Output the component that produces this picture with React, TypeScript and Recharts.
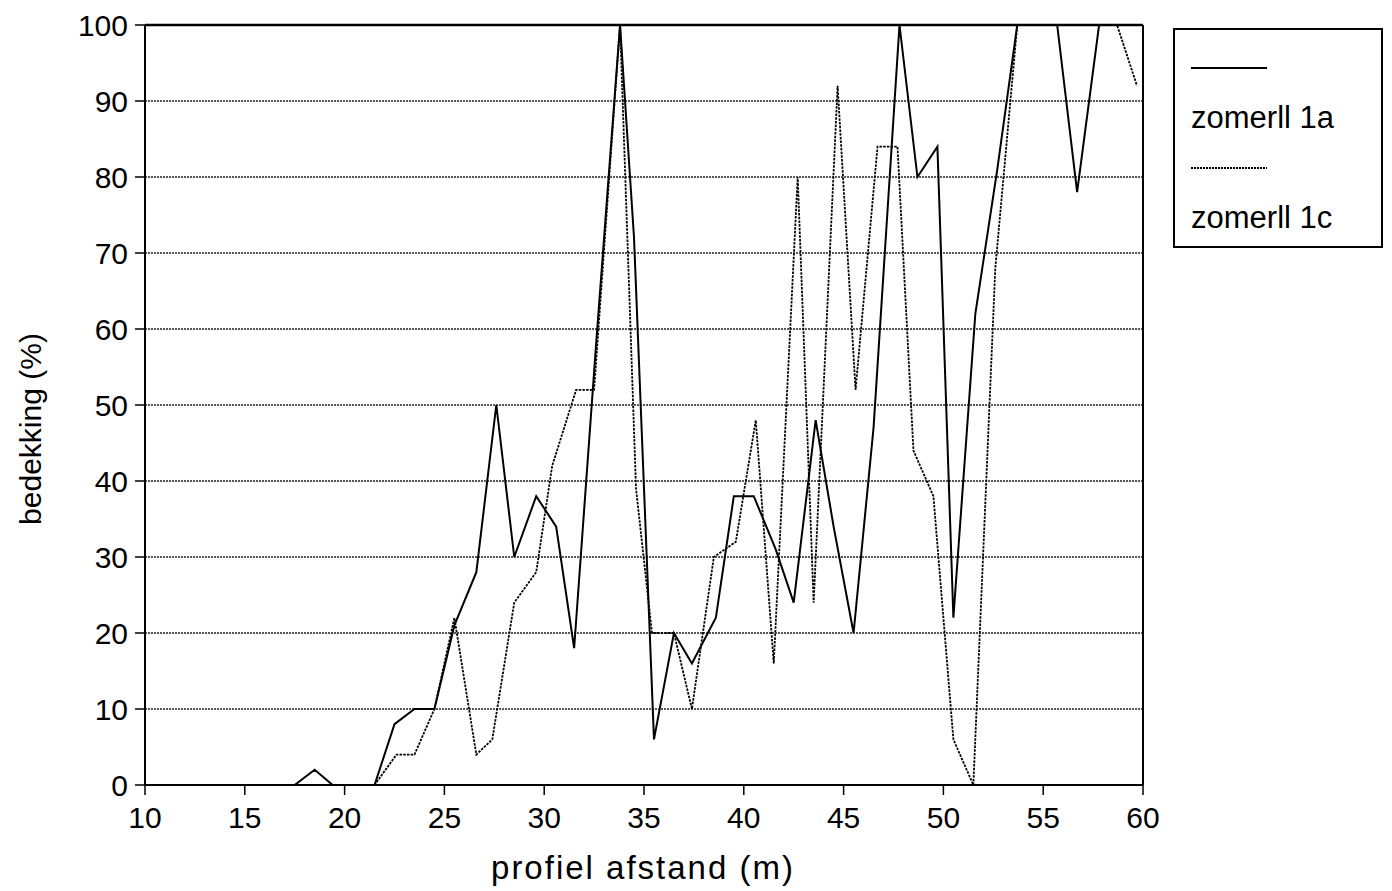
import React from 'react';
import { LineChart, Line, XAxis, YAxis, CartesianGrid, ReferenceLine, Legend } from 'recharts';

const FONT = '"Liberation Sans", Arial, Helvetica, sans-serif';

const xTicks = [10, 15, 20, 25, 30, 35, 40, 45, 50, 55, 60];
const yTicks = [0, 10, 20, 30, 40, 50, 60, 70, 80, 90, 100];

const seriesNames = ['zomerll 1a', 'zomerll 1c'];

const x1a = [10, 17.5, 18.5, 19.4, 21.5, 22.5, 23.5, 24.5, 25.5, 26.6, 27.6, 28.5, 29.6, 30.6, 31.5, 32.6, 33.8, 34.5, 35.5, 36.5, 37.4, 38.6, 39.5, 40.5, 41.6, 42.5, 43.6, 44.5, 45.5, 46.5, 47.8, 48.7, 49.7, 50.5, 51.6, 52.7, 53.7, 54.7, 55.7, 56.7, 57.8, 58.8, 60];
const y1a = [0, 0, 2, 0, 0, 8, 10, 10, 21, 28, 50, 30, 38, 34, 18, 58, 100, 72, 6, 20, 16, 22, 38, 38, 31, 24, 48, 34, 20, 47, 100, 80, 84, 22, 62, 81, 100, 100, 100, 78, 100, 100, 100];

const x1c = [10, 21.5, 22.6, 23.5, 24.5, 25.5, 26.6, 27.4, 28.5, 29.6, 30.4, 31.6, 32.5, 33.8, 34.6, 35.4, 36.5, 37.4, 38.5, 39.6, 40.6, 41.5, 42.7, 43.5, 44.7, 45.6, 46.7, 47.7, 48.5, 49.5, 50.5, 51.5, 52.6, 53.7, 54.7, 55.7, 56.7, 57.7, 58.7, 59.7];
const y1c = [0, 0, 4, 4, 10, 22, 4, 6, 24, 28, 42, 52, 52, 100, 39, 20, 20, 10, 30, 32, 48, 16, 80, 24, 92, 52, 84, 84, 44, 38, 6, 0, 68, 100, 100, 100, 100, 100, 100, 92];

const data1a = x1a.map((x, i) => ({ x, y: y1a[i] }));
const data1c = x1c.map((x, i) => ({ x, y: y1c[i] }));

const LegendBox = (props: any) => {
  const payload = props.payload || [];
  return (
    <div
      style={{
        width: 206,
        height: 216,
        border: '2px solid #000',
        background: '#fff',
        fontFamily: FONT,
        position: 'relative',
        boxSizing: 'content-box',
      }}
    >
      {payload.map((p: any, i: number) => (
        <div key={i} style={{ position: 'absolute', left: 0, top: i * 100, width: 206, height: 100 }}>
          <svg width={206} height={40} style={{ position: 'absolute', left: 0, top: 19 }}>
            <line
              x1={16}
              x2={92}
              y1={19}
              y2={19}
              stroke="#000"
              strokeWidth={i === 0 ? 2 : 1.8}
              strokeDasharray={i === 0 ? undefined : '2 1'}
            />
          </svg>
          <div
            style={{
              position: 'absolute',
              left: 16,
              top: 72,
              fontSize: 31,
              lineHeight: '31px',
              color: '#000',
              whiteSpace: 'nowrap',
            }}
          >
            {p.value}
          </div>
        </div>
      ))}
    </div>
  );
};

const YLabel = (props: any) => {
  return (
    <text
      x={41}
      y={429}
      transform="rotate(-90 41 429)"
      textAnchor="middle"
      fontFamily={FONT}
      fontSize={30}
      fill="#000"
    >
      bedekking (%)
    </text>
  );
};

const XLabel = (props: any) => {
  return (
    <text x={643} y={879} textAnchor="middle" fontFamily={FONT} fontSize={33} letterSpacing={2} fill="#000">
      profiel afstand (m)
    </text>
  );
};

export default function App() {
  return (
    <div style={{ position: 'absolute', left: 0, top: 0, width: 1392, height: 891, background: '#fff' }}>
      <LineChart width={1392} height={891} margin={{ top: 25, right: 249, bottom: 0, left: 0 }}>
        <CartesianGrid vertical={false} stroke="#222" strokeDasharray="2 1" strokeWidth={1.3} />
        <XAxis
          type="number"
          dataKey="x"
          domain={[10, 60]}
          ticks={xTicks}
          allowDataOverflow
          height={106}
          tickSize={10}
          tickMargin={12}
          axisLine={{ stroke: '#000', strokeWidth: 2 }}
          tickLine={{ stroke: '#000', strokeWidth: 1.5 }}
          tick={{ fill: '#000', fontSize: 30, fontFamily: FONT }}
          label={<XLabel />}
        />
        <YAxis
          type="number"
          domain={[0, 100]}
          ticks={yTicks}
          allowDataOverflow
          width={145}
          tickSize={10}
          tickMargin={7}
          axisLine={{ stroke: '#000', strokeWidth: 2 }}
          tickLine={{ stroke: '#000', strokeWidth: 1.5 }}
          tick={{ fill: '#000', fontSize: 30, fontFamily: FONT }}
          label={<YLabel />}
        />
        <ReferenceLine y={100} stroke="#000" strokeWidth={2.5} ifOverflow="visible" />
        <ReferenceLine x={60} stroke="#000" strokeWidth={2} ifOverflow="visible" />
        <Line
          data={data1a}
          dataKey="y"
          name={seriesNames[0]}
          type="linear"
          stroke="#000"
          strokeWidth={2}
          dot={false}
          activeDot={false}
          isAnimationActive={false}
        />
        <Line
          data={data1c}
          dataKey="y"
          name={seriesNames[1]}
          type="linear"
          stroke="#000"
          strokeWidth={1.8}
          strokeDasharray="2.5 1.2"
          dot={false}
          activeDot={false}
          isAnimationActive={false}
        />
        <Legend
          layout="vertical"
          align="center"
          verticalAlign="middle"
          content={<LegendBox />}
          wrapperStyle={{ position: 'absolute', left: 1173, top: 28, width: 210, height: 220 }}
        />
      </LineChart>
    </div>
  );
}
